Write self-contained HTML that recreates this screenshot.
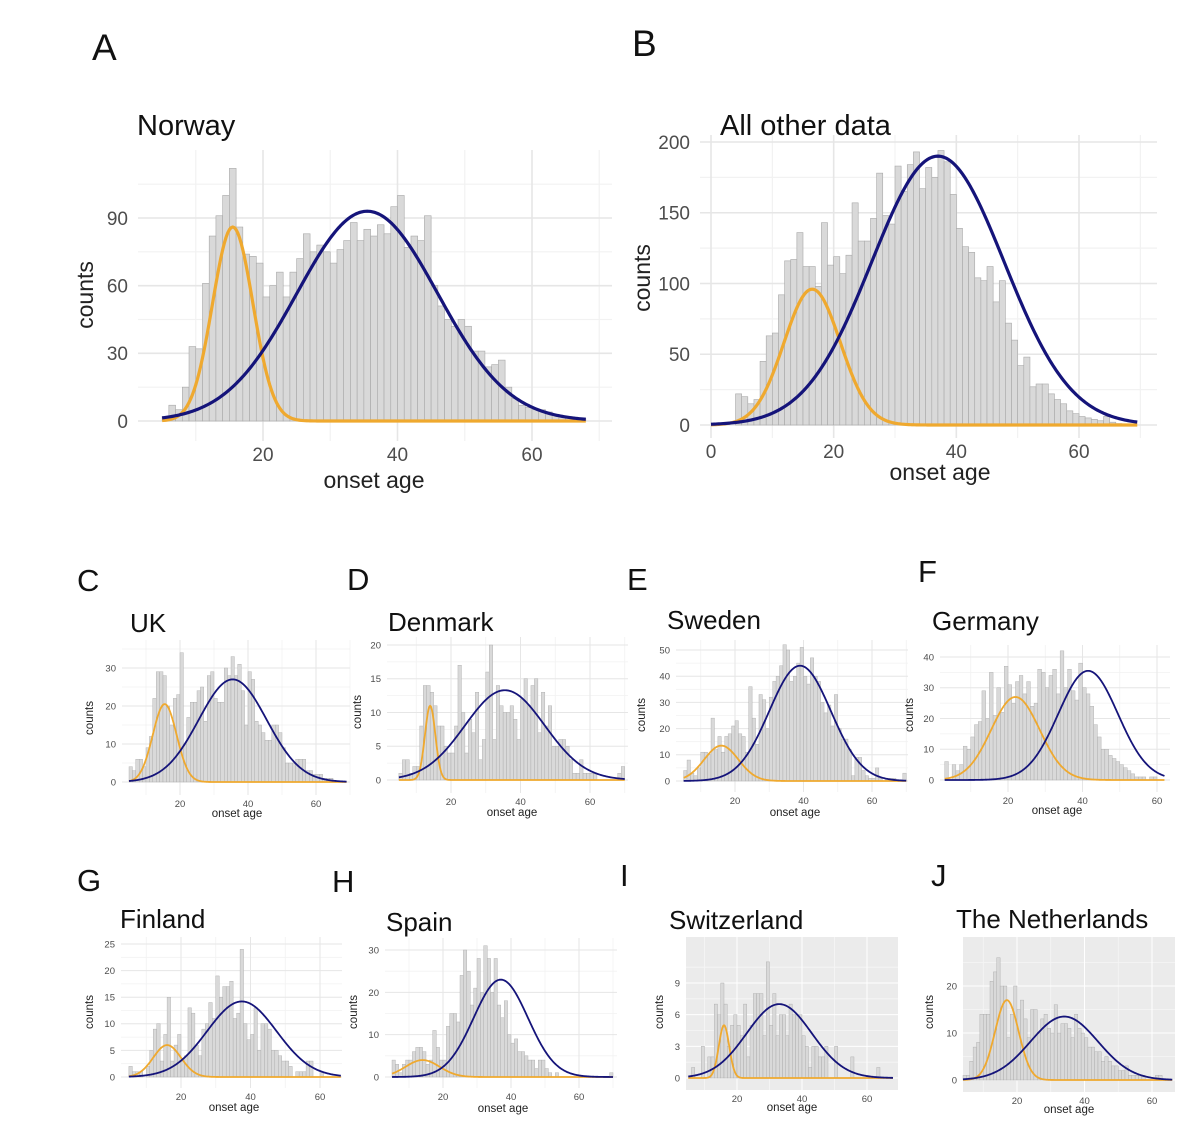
<!DOCTYPE html>
<html><head><meta charset="utf-8"><style>
html,body{margin:0;padding:0;background:#fff;}
svg{display:block;font-family:"Liberation Sans",sans-serif;}
</style></head><body>
<svg id="fig" width="1200" height="1138" viewBox="0 0 1200 1138" xmlns="http://www.w3.org/2000/svg"></svg>
<script>
// ---- data (counts per 1-year bin, starting at given start age) ----
const norwayStart = 5;
const norwayCounts = [2,7,5,15,33,32,61,82,91,100,112,86,74,73,70,55,60,66,55,66,72,83,75,78,75,70,76,80,88,80,85,82,87,83,95,100,77,82,80,91,60,51,45,42,45,42,31,31,24,25,27,15,10,7,6,5,5,4,3,2,2,1,1];
const otherStart = 4;
const otherCounts = [22,20,15,18,45,63,65,92,116,117,136,112,112,98,143,113,119,107,120,157,130,130,146,178,148,142,183,165,184,193,167,182,175,194,186,163,139,126,122,104,102,112,87,102,72,60,42,48,27,29,29,22,18,15,10,8,6,5,4,3,6,2,1];
const ukStart = 5;
const ukCounts = [4,3,6,6,4,9,12,22,29,29,28,20,15,22,23,34,10,17,21,21,24,25,16,28,29,22,21,21,30,28,33,28,31,24,15,29,27,16,15,13,11,11,15,15,13,9,5,5,5,6,6,6,3,3,2,2,2,1,1,1,0,0,0];
const denmarkStart = 5;
const denmarkCounts = [1,3,3,1,2,2,8,14,14,13,11,8,8,5,4,4,8,17,10,4,9,7,13,3,6,16,20,6,14,11,10,10,11,9,6,12,15,11,14,15,7,13,8,11,5,5,6,6,5,3,1,1,3,1,1,1,1,0,0,0,0,0,0,1,2];
const swedenStart = 5;
const swedenCounts = [4,8,3,2,5,11,11,10,24,12,17,11,17,18,21,23,18,17,11,36,24,14,33,31,20,32,38,40,44,52,50,38,40,45,51,40,37,47,40,38,30,26,29,21,33,20,16,16,12,2,9,9,4,2,1,1,5,1,0,1,1,1,0,0,3];
const germanyStart = 3;
const germanyCounts = [6,0,5,3,5,11,10,14,18,19,29,20,35,21,30,22,37,31,25,32,34,28,32,24,25,36,35,30,34,36,28,42,30,36,29,26,38,30,28,24,18,14,10,10,8,7,6,5,4,3,2,1,1,1,0,1,1];
const finlandStart = 5;
const finlandCounts = [2,1,1,1,0,2,5,9,10,3,8,15,3,6,8,3,4,13,12,6,4,9,10,14,11,19,15,17,17,18,11,12,24,10,7,8,13,5,10,10,9,5,5,4,3,3,2,0,1,1,1,3,3,0,0,1];
const spainStart = 5;
const spainCounts = [4,3,1,3,4,4,6,7,7,6,3,4,11,7,4,4,12,15,15,13,24,30,25,17,21,28,20,31,28,20,28,17,14,18,10,8,9,6,6,5,4,4,2,4,4,2,1,0,1,0,0,0,0,0,0,0,0,0,0,0,0,0,0,0,1];
const swissStart = 6;
const swissCounts = [1,0,0,3,0,2,2,7,6,9,7,3,5,6,5,4,7,2,5,8,8,8,4,11,5,8,4,6,6,4,7,6,6,6,4,3,1,3,3,2,2,3,0,0,3,0,0,0,0,2,0,0,0,0,0,0,0,1];
const nlStart = 4;
const nlCounts = [1,1,4,7,8,14,14,14,21,23,26,20,20,9,14,20,15,17,13,9,15,15,10,13,14,11,10,16,10,12,12,11,9,14,11,10,9,7,7,6,6,4,5,4,3,3,2,2,3,1,1,1,1,1,0,0,0,1,1];
// Gaussian fit parameters: [mean, sd, peak]
const norwayYoung = [15.5,3.0,86];   const norwayOld = [35.5,10.5,93];
const otherYoung = [16.5,4.6,96];    const otherOld = [37,10.8,190];
const ukYoung = [15.5,3.5,20.5];     const ukOld = [35.5,10,27];
const denmarkYoung = [14,1.5,11];    const denmarkOld = [35.5,11.5,13.3];
const swedenYoung = [16,5,13.5];     const swedenOld = [39,9,44];
const germanyYoung = [22,6.5,27];    const germanyOld = [41.5,8,35.5];
const finlandYoung = [16,4,6];       const finlandOld = [37.5,10,14.2];
const spainYoung = [14,5,4];         const spainOld = [37,8,23];
const swissYoung = [16,1.6,5];       const swissOld = [33,10,7];
const nlYoung = [17,3.5,17];         const nlOld = [34,10,13.5];
// tick labels
const xTicksA = [20,40,60];
const xTicksB = [0,20,40,60];
const yTicksA = [0,30,60,90];
const yTicksB = [0,50,100,150,200];
const yTicksUK = [0,10,20,30];
const yTicksDK = [0,5,10,15,20];
const yTicksSE = [0,10,20,30,40,50];
const yTicksDE = [0,10,20,30,40];
const yTicksFI = [0,5,10,15,20,25];
const yTicksES = [0,10,20,30];
const yTicksCH = [0,3,6,9];
const yTicksNL = [0,10,20];

const NS = "http://www.w3.org/2000/svg";
const svg = document.getElementById('fig');
function mk(tag, attrs, parent, text){
  const e = document.createElementNS(NS, tag);
  for (const k in attrs) e.setAttribute(k, attrs[k]);
  if (text !== undefined) e.textContent = text;
  (parent||svg).appendChild(e);
  return e;
}
function linear(d0,d1,r0,r1){ return v => r0 + (v-d0)*(r1-r0)/(d1-d0); }

function panel(p){
  const g = mk('g',{});
  
  
  const sx = linear(p.xd[0],p.xd[1],p.xr[0],p.xr[1]);
  const sy = linear(p.yd[0],p.yd[1],p.yr[0],p.yr[1]);
  const R = p.rect;
  if (p.greybg){
    const bg = mk('rect',{x:R[0],y:R[2],width:R[1]-R[0],height:R[3]-R[2],fill:'#ebebeb'},g);
    
    
  }
  const gmaj = p.greybg ? '#ffffff' : '#e6e6e6';
  const gmin = p.greybg ? '#f6f6f6' : '#f2f2f2';
  const yt = p.yticks, xt = p.xticks;
  const ystep = yt[1]-yt[0];
  for (let v = yt[0]-ystep/2; v <= yt[yt.length-1]+ystep; v += ystep){
    const y = sy(v); if (y < R[2] || y > R[3]) continue;
    mk('line',{x1:R[0],x2:R[1],y1:y,y2:y,stroke:gmin,'stroke-width':p.big?1.2:0.8},g);
  }
  for (let v = 10; v <= 70; v += 20){
    const x = sx(v); if (x < R[0] || x > R[1]) continue;
    mk('line',{x1:x,x2:x,y1:R[2],y2:R[3],stroke:gmin,'stroke-width':p.big?1.2:0.8},g);
  }
  yt.forEach(v=>{ const y=sy(v); mk('line',{x1:R[0],x2:R[1],y1:y,y2:y,stroke:gmaj,'stroke-width':p.big?1.6:1},g); });
  xt.forEach(v=>{ const x=sx(v); mk('line',{x1:x,x2:x,y1:R[2],y2:R[3],stroke:gmaj,'stroke-width':p.big?1.6:1},g); });
  p.counts.forEach((c,i)=>{
    const a = p.start + i;
    const b = mk('rect',{x:sx(a),y:sy(c),width:sx(a+1)-sx(a),height:Math.max(0,sy(0)-sy(c)),fill:'#d9d9d9',stroke:'#a8a8a8','stroke-width':p.big?0.6:0.4},g);
    
    
  });
  [[p.young,'#efa92f','young-onset-curve'],[p.old,'#15147a','late-onset-curve']].forEach(([prm,col,nm])=>{
    let d='';
    for (let x = p.cx[0]; x <= p.cx[1]+1e-9; x += 0.25){
      const y = prm[2]*Math.exp(-((x-prm[0])**2)/(2*prm[1]*prm[1]));
      d += (d?'L':'M') + sx(x).toFixed(2)+','+sy(y).toFixed(2);
    }
    const c = mk('path',{d:d,fill:'none',stroke:col,'stroke-width':p.big?3.2:1.8,'stroke-linejoin':'round'},g);
    
    
  });
  const tf = p.big?19:9.5;
  yt.forEach(v=>{
    const t = mk('text',{x:R[0]-(p.big?10:6),y:sy(v)+tf*0.36,'text-anchor':'end','font-size':tf,fill:'#4d4d4d'},g,String(v));
    
    
  });
  xt.forEach(v=>{
    const t = mk('text',{x:sx(v),y:R[3]+(p.big?20:12),'text-anchor':'middle','font-size':tf,fill:'#4d4d4d'},g,String(v));
    
    
  });
  const af = p.big?23:11.5;
  const xt2 = mk('text',{x:p.xlab[0],y:p.xlab[1],'text-anchor':'middle','font-size':af,fill:'#222'},g,'onset age');
  
  
  const yt2 = mk('text',{x:0,y:0,'text-anchor':'middle','font-size':af,fill:'#222',transform:`translate(${p.ylab[0]},${p.ylab[1]}) rotate(-90)`},g,'counts');
  
  
  const tt = mk('text',{x:p.title[0],y:p.title[1],'font-size':p.big?29:26,fill:'#111'},g,p.label);
  
  
  const lt = mk('text',{x:p.letter[0],y:p.letter[1],'font-size':p.big?37:31,fill:'#111'},g,p.letterText);
  
  
}

const panels = [
 {name:'norway',label:'Norway',letterText:'A',big:true,start:norwayStart,counts:norwayCounts,young:norwayYoung,old:norwayOld,
  xd:[20,60],xr:[263,532],yd:[0,90],yr:[421,218],rect:[138,612,150,441],xticks:xTicksA,yticks:yTicksA,cx:[5,68],
  xlab:[374,488],ylab:[93,295],title:[137,135],letter:[92,60]},
 {name:'all-other',label:'All other data',letterText:'B',big:true,start:otherStart,counts:otherCounts,young:otherYoung,old:otherOld,
  xd:[0,60],xr:[711,1079],yd:[0,200],yr:[425,142],rect:[700,1157,135,438],xticks:xTicksB,yticks:yTicksB,cx:[0,69.5],
  xlab:[940,480],ylab:[650,278],title:[720,135],letter:[632,56]},
 {name:'uk',label:'UK',letterText:'C',start:ukStart,counts:ukCounts,young:ukYoung,old:ukOld,
  xd:[20,60],xr:[180,316],yd:[0,30],yr:[782,668],rect:[122,350,640,795],xticks:xTicksA,yticks:yTicksUK,cx:[5,69],
  xlab:[237,817],ylab:[93,718],title:[130,632],letter:[77,591]},
 {name:'denmark',label:'Denmark',letterText:'D',start:denmarkStart,counts:denmarkCounts,young:denmarkYoung,old:denmarkOld,
  xd:[20,60],xr:[451,590],yd:[0,20],yr:[780,645],rect:[387,628,637,793],xticks:xTicksA,yticks:yTicksDK,cx:[5,70],
  xlab:[512,816],ylab:[361,712],title:[388,631],letter:[347,590]},
 {name:'sweden',label:'Sweden',letterText:'E',start:swedenStart,counts:swedenCounts,young:swedenYoung,old:swedenOld,
  xd:[20,60],xr:[735,872],yd:[0,50],yr:[781,650],rect:[676,908,640,792],xticks:xTicksA,yticks:yTicksSE,cx:[5,70],
  xlab:[795,816],ylab:[645,715],title:[667,629],letter:[627,590]},
 {name:'germany',label:'Germany',letterText:'F',start:germanyStart,counts:germanyCounts,young:germanyYoung,old:germanyOld,
  xd:[20,60],xr:[1008,1157],yd:[0,40],yr:[780,657],rect:[940,1170,645,792],xticks:xTicksA,yticks:yTicksDE,cx:[3,62],
  xlab:[1057,814],ylab:[913,715],title:[932,630],letter:[918,582]},
 {name:'finland',label:'Finland',letterText:'G',start:finlandStart,counts:finlandCounts,young:finlandYoung,old:finlandOld,
  xd:[20,60],xr:[181,320],yd:[0,25],yr:[1077,944],rect:[121,342,937,1088],xticks:xTicksA,yticks:yTicksFI,cx:[5,66],
  xlab:[234,1111],ylab:[93,1012],title:[120,928],letter:[77,891]},
 {name:'spain',label:'Spain',letterText:'H',start:spainStart,counts:spainCounts,young:spainYoung,old:spainOld,
  xd:[20,60],xr:[443,579],yd:[0,30],yr:[1077,950],rect:[385,617,938,1088],xticks:xTicksA,yticks:yTicksES,cx:[5,70],
  xlab:[503,1112],ylab:[357,1012],title:[386,931],letter:[332,892]},
 {name:'switzerland',label:'Switzerland',letterText:'I',greybg:true,start:swissStart,counts:swissCounts,young:swissYoung,old:swissOld,
  xd:[20,60],xr:[737,867],yd:[0,9],yr:[1078,983],rect:[686,898,937,1090],xticks:xTicksA,yticks:yTicksCH,cx:[5,68],
  xlab:[792,1111],ylab:[663,1012],title:[669,929],letter:[620,886]},
 {name:'netherlands',label:'The Netherlands',letterText:'J',greybg:true,start:nlStart,counts:nlCounts,young:nlYoung,old:nlOld,
  xd:[20,60],xr:[1017,1152],yd:[0,20],yr:[1080,986],rect:[963,1175,937,1092],xticks:xTicksA,yticks:yTicksNL,cx:[4,66],
  xlab:[1069,1113],ylab:[933,1012],title:[956,928],letter:[931,886]}
];
panels.forEach(panel);
</script>
</body></html>
